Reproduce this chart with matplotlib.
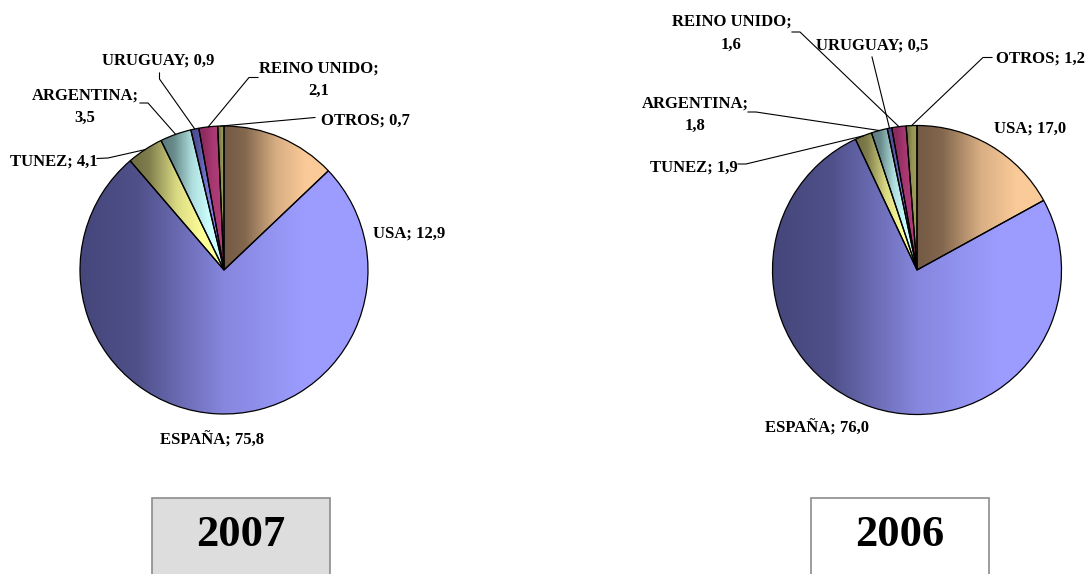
import numpy as np
import matplotlib.pyplot as plt
from matplotlib.colors import LinearSegmentedColormap, to_rgb
from matplotlib.patches import Rectangle

# datos
paises = ["USA", "ESPAÑA", "TUNEZ", "ARGENTINA", "URUGUAY", "REINO UNIDO", "OTROS"]
valores_2007 = [12.9, 75.8, 4.1, 3.5, 0.9, 2.1, 0.7]
valores_2006 = [17.0, 76.0, 1.9, 1.8, 0.5, 1.6, 1.2]
anios = ["2007", "2006"]

# colores (oscuro -> claro, degradado horizontal)
claros = ["#FACA98", "#9C9CFF", "#FFFF99", "#CCFFFF", "#8C8CF0", "#B03C78", "#9C9C58"]
oscuros = ["#735A44", "#45467A", "#6E6C42", "#5A7A7A", "#4A4A90", "#8A2A5C", "#707040"]

W, H = 1090, 574
fuente = "Liberation Serif"

# posiciones en pixeles: centro, radio, etiquetas (x, linea base de la ultima linea, partir, guia)
tartas = [
    dict(valores=valores_2007, cx=224, cy=270, r=144, caja=(152, 498, 178, "#DDDDDD"), anio_x=241,
         etiquetas=[(409, 238, False, None),
                    (211.5, 445, False, None),
                    (54, 166, False, [(97, 158.5), (108, 158)]),
                    (85, 122, True, [(140, 103), (148, 103)]),
                    (158.5, 65, False, [(159.5, 73), (159.5, 79)]),
                    (318.5, 95, True, [(258, 77.5), (249, 77.5)]),
                    (365.5, 125, False, [(315, 117.5)])]),
    dict(valores=valores_2006, cx=917, cy=270, r=144.5, caja=(811, 498, 178, "white"), anio_x=900,
         etiquetas=[(1030.5, 133, False, None),
                    (817, 433, False, None),
                    (693.5, 171.5, False, [(738, 164), (746, 164)]),
                    (695, 130, True, [(748, 112), (756, 112)]),
                    (872.5, 50, False, [(872, 57), (873, 61)]),
                    (731.5, 48.5, True, [(792, 32), (800, 32)]),
                    (1040, 63, False, [(992, 57.5), (983, 57.5)])]),
]

fig = plt.figure(figsize=(W / 100, H / 100), dpi=100)
ax = fig.add_axes([0, 0, 1, 1])

grad = np.linspace(0, 1, 256).reshape(1, -1)

for t, anio in zip(tartas, anios):
    cy = H - t["cy"]
    wedges, _ = ax.pie(t["valores"], startangle=90, counterclock=False,
                       center=(t["cx"], cy), radius=t["r"],
                       wedgeprops=dict(edgecolor="black", linewidth=0.9, facecolor="none"))
    for w, c1, c2 in zip(wedges, oscuros, claros):
        a, b = np.array(to_rgb(c1)), np.array(to_rgb(c2))
        cmap = LinearSegmentedColormap.from_list(
            "g", [(0, a), (0.2, a + 0.12 * (b - a)), (0.5, a + 0.75 * (b - a)), (0.78, b), (1, b)])
        ext = w.get_path().get_extents()
        im = ax.imshow(grad, cmap=cmap, extent=[ext.x0, ext.x1, ext.y0, ext.y1],
                       aspect="auto", zorder=0, interpolation="bilinear")
        im.set_clip_path(w)
        w.set_zorder(1)

    for w, pais, v, (lx, ly, partir, guia) in zip(wedges, paises, t["valores"], t["etiquetas"]):
        valor = f"{v:.1f}".replace(".", ",")
        texto = f"{pais};\n{valor}" if partir else f"{pais}; {valor}"
        ax.text(lx, H - ly, texto, ha="center", va="baseline", fontsize=12,
                fontweight="bold", family=fuente, linespacing=1.55, multialignment="center")
        if guia:
            ang = np.deg2rad((w.theta1 + w.theta2) / 2)
            px = [p[0] for p in guia] + [t["cx"] + t["r"] * np.cos(ang)]
            py = [H - p[1] for p in guia] + [cy + t["r"] * np.sin(ang)]
            ax.plot(px, py, color="black", lw=0.8, zorder=2)

    bx, by, bw, bc = t["caja"]
    ax.add_patch(Rectangle((bx, -10), bw, H - by + 10, facecolor=bc,
                           edgecolor="#8C8C8C", lw=1.2, zorder=1))
    ax.text(t["anio_x"], H - 546, anio, ha="center", va="baseline", fontsize=32,
            fontweight="bold", family=fuente, zorder=3)

ax.set_xlim(0, W)
ax.set_ylim(0, H)
ax.set_aspect("equal")
ax.axis("off")

fig.savefig("out.png", dpi=100)
